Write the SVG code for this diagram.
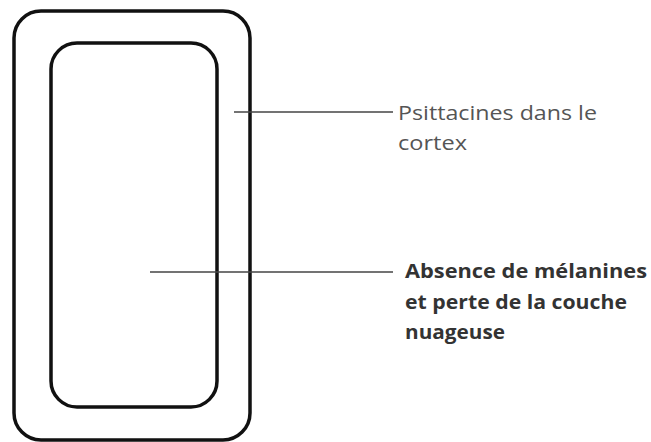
<svg xmlns="http://www.w3.org/2000/svg" width="651" height="442" viewBox="0 0 651 442">
<style>
.shape{fill:none;stroke:#111;stroke-width:3.5}
.lead{stroke:#444;stroke-width:1.6}
.t1{font-family:"Open Sans",sans-serif;font-size:20px;fill:#555}
.t2{font-family:"Open Sans",sans-serif;font-size:20px;font-weight:bold;fill:#333}
</style>
<rect x="0" y="0" width="651" height="442" fill="#fff"/>
<g id="outer"><rect class="shape" x="14" y="11" width="236" height="429" rx="27"/></g>
<g id="inner"><rect class="shape" x="51" y="43" width="166" height="364" rx="26"/></g>
<g id="connectors">
<line class="lead" x1="234" y1="112" x2="393" y2="112"/>
<line class="lead" x1="150" y1="272" x2="393" y2="272"/>
</g>
<g id="label1"><text class="t1" x="398" y="120" textLength="199" lengthAdjust="spacingAndGlyphs">Psittacines dans le</text><text class="t1" x="398" y="150" textLength="69" lengthAdjust="spacingAndGlyphs">cortex</text></g>
<g id="label2"><text class="t2" x="405" y="278" textLength="242" lengthAdjust="spacingAndGlyphs">Absence de mélanines</text><text class="t2" x="405" y="309" textLength="222" lengthAdjust="spacingAndGlyphs">et perte de la couche</text><text class="t2" x="405" y="339" textLength="100" lengthAdjust="spacingAndGlyphs">nuageuse</text></g>
</svg>
